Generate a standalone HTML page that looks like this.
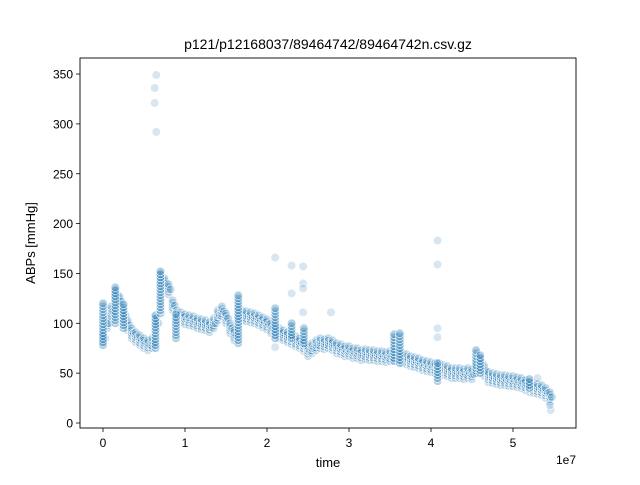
<!DOCTYPE html>
<html><head><meta charset="utf-8"><style>
body{margin:0;background:#fff}
svg text{font-family:"Liberation Sans","DejaVu Sans",sans-serif;fill:#000}
</style></head><body>
<svg id="chart" width="640" height="480" viewBox="0 0 640 480" xmlns="http://www.w3.org/2000/svg">
<rect width="640" height="480" fill="#fff"/>
<text x="328" y="49" text-anchor="middle" font-size="14">p121/p12168037/89464742/89464742n.csv.gz</text>
<g id="marks"></g>
<rect x="80" y="58" width="496" height="370" fill="none" stroke="#000" stroke-width="0.9"/>
<g id="axes"></g>
<text x="328" y="467" text-anchor="middle" font-size="13">time</text>
<text x="576" y="464" text-anchor="end" font-size="12">1e7</text>
<text x="35" y="243" text-anchor="middle" font-size="13" transform="rotate(-90 35 243)">ABPs [mmHg]</text>
</svg>
<script>
const mainT=[0,0.5,1,1.5,2,2.5,3,3.5,4,4.5,5,5.5,6,6.5,7,7.5,8,8.5,9,9.5,10,10.5,11,11.5,12,12.5,13,13.5,14,14.5,15,15.5,16,16.5,17,17.5,18,18.5,19,19.5,20,20.5,21,21.5,22,22.5,23,23.5,24,24.5,25,25.5,26,26.5,27,27.5,28,28.5,29,29.5,30,30.5,31,31.5,32,32.5,33,33.5,34,34.5,35,35.5,36,36.5,37,37.5,38,38.5,39,39.5,40,40.5,41,41.5,42,42.5,43,43.5,44,44.5,45,45.5,46,46.5,47,47.5,48,48.5,49,49.5,50,50.5,51,51.5,52,52.5,53,53.5,54,54.5];
const mainV=[85,100,112,128,122,108,98,90,86,83,80,78,80,100,145,140,134,118,108,106,104,103,102,100,99,98,96,100,108,112,105,95,88,110,108,107,106,105,103,101,99,95,92,90,88,86,84,82,80,77,72,75,78,80,79,80,78,75,74,72,72,70,70,68,69,68,68,67,67,66,67,68,67,65,64,62,61,60,58,57,56,55,55,53,52,50,50,50,49,50,49,55,60,52,46,45,44,43,43,42,42,41,40,38,36,35,34,33,30,26];
const spikeT=[0,1.5,2.5,6.4,7,8.9,16.5,21,23,24.5,35.5,36.2,40.8,45.5,46,52];
const spikeLo=[78,100,95,75,110,85,80,85,85,80,62,60,42,55,50,35];
const spikeHi=[120,136,120,110,152,110,130,115,100,95,90,90,60,75,70,45];
const outT=[6.5,6.3,6.3,6.5,21,23,23,24.4,24.4,24.4,24.4,21,27.8,40.8,40.8,40.8,40.8,53,54.6,54.5];
const outV=[349,336,321,292,166,158,130,157,140,135,111,76,111,183,159,95,86,45,13,18];
const xTicks=[0,1,2,3,4,5];
const yTicks=[0,50,100,150,200,250,300,350];

const X=t=>103+t*8.2;            // t in 1e6
const Y=v=>423-v*0.997;
const NS='http://www.w3.org/2000/svg';
const marks=document.getElementById('marks');
function dot(t,v,op){
  const c=document.createElementNS(NS,'circle');
  
  
  c.setAttribute('cx',X(t));c.setAttribute('cy',Y(v));c.setAttribute('r',4.3);
  c.setAttribute('fill','#1f77b4');c.setAttribute('fill-opacity',op);
  c.setAttribute('stroke','#fff');c.setAttribute('stroke-width',0.6);
  marks.appendChild(c);
}
for(let i=0;i<mainT.length;i++){
  for(const d of [-5,-2.5,0,2.5,5]) dot(mainT[i],mainV[i]+d,0.25);
  dot(mainT[i]+0.25,mainV[i],0.25);
}
for(let i=0;i<spikeT.length;i++){
  for(let v=spikeLo[i];v<=spikeHi[i];v+=3) dot(spikeT[i],v,0.35);
}
for(let i=0;i<outT.length;i++) dot(outT[i],outV[i],0.18);

const axes=document.getElementById('axes');
function el(tag,attrs,txt){const e=document.createElementNS(NS,tag);for(const k in attrs)e.setAttribute(k,attrs[k]);if(txt!==undefined)e.textContent=txt;axes.appendChild(e);return e;}
xTicks.forEach(v=>{
  const l=el('line',{x1:X(v*10),x2:X(v*10),y1:428,y2:432,stroke:'#000','stroke-width':0.8});
  
  
  const t=el('text',{x:X(v*10),y:447,'text-anchor':'middle','font-size':12},String(v));
  
  
});
yTicks.forEach(v=>{
  const l=el('line',{x1:76,x2:80,y1:Y(v),y2:Y(v),stroke:'#000','stroke-width':0.8});
  
  
  const t=el('text',{x:73,y:Y(v)+4.5,'text-anchor':'end','font-size':12},String(v));
  
  
});
</script>
</body></html>
